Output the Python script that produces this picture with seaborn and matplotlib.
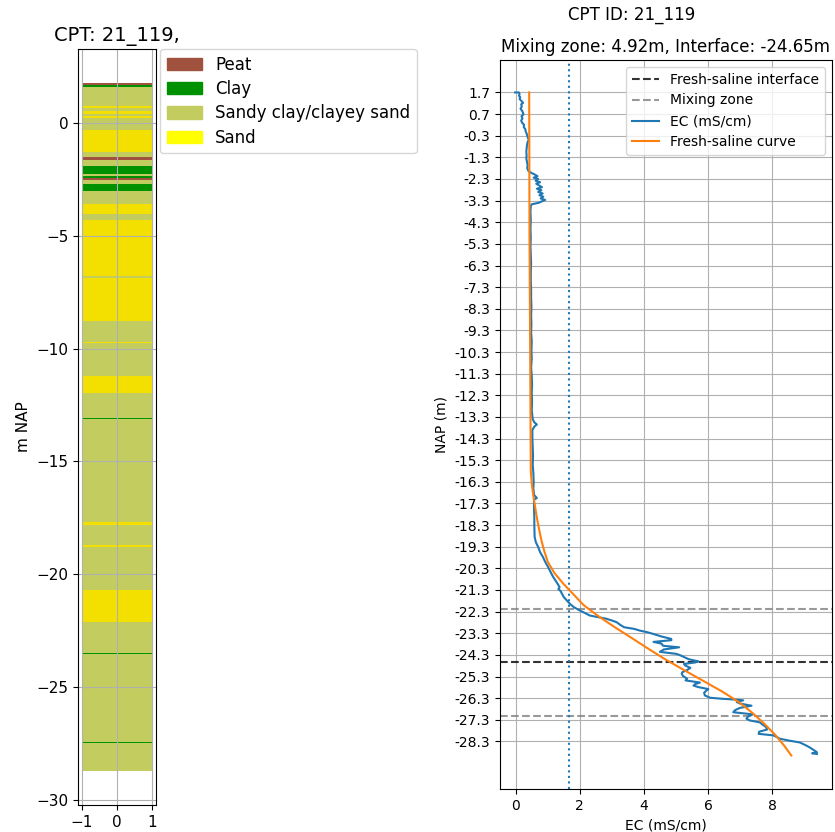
import numpy as np
import pandas as pd
import matplotlib
matplotlib.use("Agg")
import matplotlib.pyplot as plt
import matplotlib.patches as mpatches
import seaborn as sns

# ---------------- data ----------------
cpt_id = "21_119"
mixing_zone = 4.92
interface = -24.65
ec_threshold = 1.65

soil_names = ["Peat", "Clay", "Sandy clay/clayey sand", "Sand"]
soil_colors = ["#A0523F", "#009100", "#C3CD5F", "#F3E000"]
legend_colors = ["#A0523F", "#009100", "#C3CD5F", "#FFFF00"]

layer_top = [1.76, 1.70, 1.60, 0.75, 0.66, 0.55, 0.40, 0.30, 0.22, -0.29,
             -1.28, -1.52, -1.65, -1.90, -2.24, -2.33, -2.45, -2.52, -2.68, -3.01,
             -3.57, -4.01, -4.31, -6.80, -6.89, -8.78, -9.69, -9.77, -11.22, -11.98,
             -13.09, -13.14, -17.70, -17.80, -18.69, -18.81, -20.70, -22.10, -23.51, -23.56,
             -27.42, -27.47]
layer_bottom = [1.70, 1.60, 0.75, 0.66, 0.55, 0.40, 0.30, 0.22, -0.29, -1.28,
                -1.52, -1.65, -1.90, -2.24, -2.33, -2.45, -2.52, -2.68, -3.01, -3.57,
                -4.01, -4.31, -6.80, -6.89, -8.78, -9.69, -9.77, -11.22, -11.98, -13.09,
                -13.14, -17.70, -17.80, -18.69, -18.81, -20.70, -22.10, -23.51, -23.56, -27.42,
                -27.47, -28.71]
layer_soil = ["Peat", "Clay", "Sandy clay/clayey sand", "Sand", "Sandy clay/clayey sand",
              "Sand", "Sandy clay/clayey sand", "Sand", "Sandy clay/clayey sand", "Sand",
              "Sandy clay/clayey sand", "Peat", "Sandy clay/clayey sand", "Clay",
              "Sandy clay/clayey sand", "Clay", "Peat", "Sandy clay/clayey sand", "Clay",
              "Sandy clay/clayey sand", "Sand", "Sandy clay/clayey sand", "Sand",
              "Sandy clay/clayey sand", "Sand", "Sandy clay/clayey sand", "Sand",
              "Sandy clay/clayey sand", "Sand", "Sandy clay/clayey sand", "Clay",
              "Sandy clay/clayey sand", "Sand", "Sandy clay/clayey sand", "Sand",
              "Sandy clay/clayey sand", "Sand", "Sandy clay/clayey sand", "Clay",
              "Sandy clay/clayey sand", "Clay", "Sandy clay/clayey sand"]

ec_depth = [1.70, 1.70, 1.62, 1.55, 1.48, 1.40, 1.32, 1.22, 1.15, 1.05,
            0.95, 0.85, 0.75, 0.68, 0.60, 0.50, 0.40, 0.30, 0.20, 0.10,
            0.00, -0.10, -0.20, -0.30, -0.40, -0.48, -0.60, -0.75, -0.90, -1.05,
            -1.20, -1.35, -1.50, -1.65, -1.80, -1.94, -2.02, -2.10, -2.17, -2.24,
            -2.30, -2.38, -2.45, -2.52, -2.60, -2.68, -2.75, -2.82, -2.90, -2.97,
            -3.05, -3.12, -3.20, -3.27, -3.33, -3.40, -3.47, -3.55, -3.80, -4.20,
            -4.60, -5.00, -5.40, -5.80, -6.20, -6.60, -7.00, -7.40, -7.80, -8.20,
            -8.60, -9.00, -9.40, -9.80, -10.20, -10.60, -11.00, -11.40, -11.80, -12.20,
            -12.60, -13.00, -13.40, -13.55, -13.65, -13.75, -13.90, -14.30, -14.70, -15.10,
            -15.50, -15.90, -16.30, -16.60, -16.90, -17.05, -17.12, -17.50, -17.90, -18.30,
            -18.85, -19.10, -19.31, -19.55, -19.78, -20.00, -20.24, -20.45, -20.70, -20.95,
            -21.17, -21.25, -21.35, -21.63, -21.94, -22.10, -22.25, -22.38, -22.48, -22.55,
            -22.63, -22.72, -22.79, -22.90, -23.02, -23.10, -23.18, -23.25, -23.33, -23.45,
            -23.56, -23.62, -23.70, -23.78, -23.88, -23.95, -24.05, -24.16, -24.25, -24.31,
            -24.40, -24.50, -24.60, -24.65, -24.72, -24.80, -24.90, -25.00, -25.10, -25.17,
            -25.28, -25.40, -25.48, -25.58, -25.65, -25.72, -25.79, -25.88, -25.95, -26.05,
            -26.17, -26.28, -26.33, -26.36, -26.40, -26.48, -26.55, -26.65, -26.75, -26.85,
            -26.95, -27.05, -27.15, -27.25, -27.33, -27.42, -27.52, -27.62, -27.75, -27.85,
            -27.95, -28.02, -28.10, -28.18, -28.27, -28.35, -28.50, -28.60, -28.74, -28.80,
            -28.85, -28.88]
ec_value = [-0.02, 0.10, 0.12, 0.10, 0.14, 0.12, 0.17, 0.23, 0.17, 0.19,
            0.15, 0.20, 0.23, 0.24, 0.18, 0.21, 0.17, 0.20, 0.26, 0.25,
            0.30, 0.31, 0.34, 0.36, 0.38, 0.41, 0.37, 0.35, 0.34, 0.33,
            0.34, 0.33, 0.35, 0.37, 0.36, 0.40, 0.49, 0.60, 0.68, 0.56,
            0.70, 0.62, 0.76, 0.64, 0.73, 0.82, 0.66, 0.80, 0.70, 0.84,
            0.74, 0.86, 0.78, 0.92, 0.82, 0.72, 0.50, 0.47, 0.46, 0.47,
            0.46, 0.47, 0.46, 0.47, 0.48, 0.47, 0.47, 0.48, 0.48, 0.49,
            0.48, 0.49, 0.48, 0.50, 0.49, 0.50, 0.48, 0.50, 0.51, 0.50,
            0.51, 0.50, 0.53, 0.58, 0.66, 0.58, 0.52, 0.52, 0.53, 0.54,
            0.53, 0.55, 0.56, 0.55, 0.57, 0.66, 0.57, 0.57, 0.58, 0.58,
            0.59, 0.63, 0.70, 0.76, 0.85, 0.92, 1.01, 1.08, 1.17, 1.28,
            1.37, 1.33, 1.40, 1.50, 1.69, 1.82, 2.00, 2.18, 2.31, 2.55,
            2.83, 3.02, 3.15, 3.25, 3.38, 3.70, 3.88, 4.10, 4.29, 4.55,
            4.85, 4.86, 4.30, 4.55, 4.60, 5.10, 4.62, 4.50, 5.00, 5.12,
            5.25, 5.40, 5.70, 5.60, 5.25, 5.30, 5.45, 5.35, 5.20, 5.18,
            5.22, 5.35, 5.30, 5.75, 5.60, 5.55, 5.70, 6.01, 5.95, 5.88,
            5.90, 6.06, 6.45, 6.79, 7.10, 6.90, 7.00, 7.36, 7.00, 6.85,
            6.79, 7.40, 7.25, 7.20, 7.30, 7.62, 7.70, 7.80, 7.85, 7.60,
            7.58, 8.04, 8.15, 8.25, 8.56, 8.87, 9.08, 9.20, 9.34, 9.40,
            9.25, 9.40]

curve_depth = [1.70, -5.00, -10.00, -13.00, -15.80, -16.00, -16.50, -17.00, -17.50, -18.00,
               -18.50, -19.00, -19.50, -20.00, -20.50, -21.00, -21.50, -22.00, -22.50, -23.00,
               -23.50, -24.00, -24.50, -25.00, -25.50, -26.00, -26.50, -27.00, -27.50, -28.00,
               -28.50, -28.95]
curve_value = [0.42, 0.43, 0.45, 0.46, 0.47, 0.48, 0.51, 0.555, 0.61, 0.665,
               0.73, 0.80, 0.89, 1.00, 1.20, 1.48, 1.80, 2.12, 2.57, 3.07,
               3.60, 4.12, 4.66, 5.25, 5.85, 6.45, 6.98, 7.40, 7.77, 8.10,
               8.38, 8.60]

nap_ticks = [round(1.7 - i, 1) for i in range(31)]
nap_ticklabels = [f"{t:.1f}" for t in nap_ticks]

# ---------------- figure ----------------
fig = plt.figure(figsize=(8.35, 8.32), dpi=100)

# Left: soil column
ax1 = fig.add_axes([78 / 835, 1 - 805 / 832, 78 / 835, (805 - 49) / 832])
color_map = dict(zip(soil_names, soil_colors))
for top, bot, soil in zip(layer_top, layer_bottom, layer_soil):
    ax1.fill_betweenx([bot, top], -1, 1, color=color_map[soil], linewidth=0)
ax1.grid(True)
ax1.set_xticks([-1, 0, 1])
ax1.tick_params(labelsize=11)
ax1.set_ylabel("m NAP", fontsize=11)
ax1.set_title(f"CPT: {cpt_id},", fontsize=14)
handles = [mpatches.Patch(color=c, label=n) for n, c in zip(soil_names, legend_colors)]
ax1.legend(handles=handles, bbox_to_anchor=(1.05, 1), loc="upper left",
           borderaxespad=0, fontsize=12, labelspacing=0.38,
           handlelength=2.1, handleheight=0.75)

# Right: EC profile
ax2 = fig.add_axes([500 / 835, 1 - 789 / 832, 332 / 835, (789 - 60) / 832])
ax2.axhline(interface, color="black", linestyle="--", alpha=0.8, lw=1.5,
            label="Fresh-saline interface")
ax2.axhline(interface + mixing_zone / 2, color="gray", linestyle="--", alpha=0.8, lw=1.5,
            label="Mixing zone")
ax2.axhline(interface - mixing_zone / 2, color="gray", linestyle="--", alpha=0.8, lw=1.5)
ax2.axvline(ec_threshold, color="#1f77b4", linestyle=":", lw=1.5)
sns.lineplot(x=ec_value, y=ec_depth, sort=False, estimator=None, ax=ax2,
             color="#1f77b4", lw=1.5, label="EC (mS/cm)")
sns.lineplot(x=curve_value, y=curve_depth, sort=False, estimator=None, ax=ax2,
             color="#ff7f0e", lw=1.5, label="Fresh-saline curve")
ax2.set_ylim(-30.5, 3.2)
ax2.set_yticks(nap_ticks)
ax2.set_yticklabels(nap_ticklabels)
ax2.tick_params(axis="y", labelsize=10)
ax2.tick_params(axis="x", labelsize=10)
ax2.grid(True)
ax2.set_xlabel("EC (mS/cm)", fontsize=10)
ax2.set_ylabel("NAP (m)", fontsize=10)
ax2.set_title(f"Mixing zone: {mixing_zone:.2f}m, Interface: {interface:.2f}m", fontsize=12)
ax2.legend(loc="upper right", fontsize=10)

fig.text(632 / 835, 1 - 15 / 832, f"CPT ID: {cpt_id}", ha="center", va="center", fontsize=12)

fig.savefig("out.png", dpi=100)
